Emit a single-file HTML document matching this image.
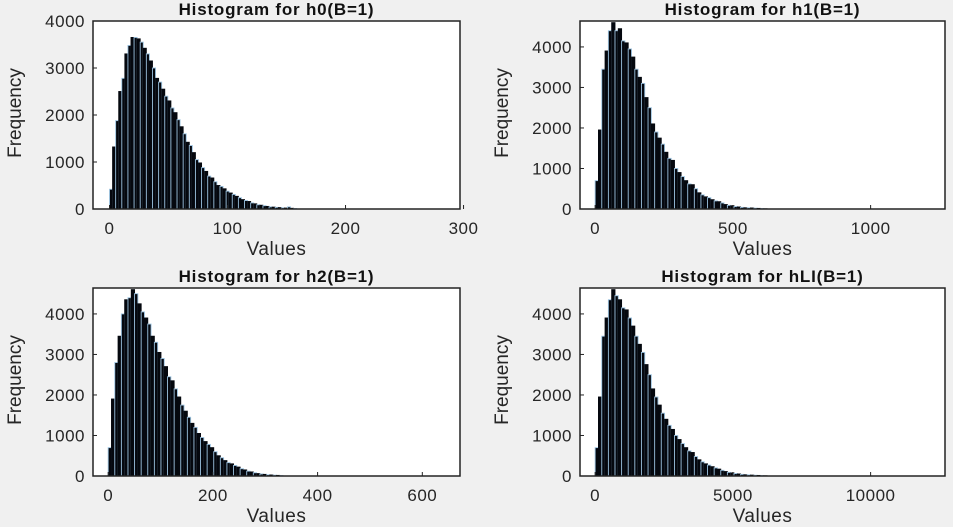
<!DOCTYPE html>
<html><head><meta charset="utf-8"><style>
html,body{margin:0;padding:0;background:#f0f0f0;}
svg{display:block;font-family:"Liberation Sans",sans-serif;}
</style></head><body>
<svg id="chart" width="953" height="527"></svg>
<script>
const h0Counts=[420,1320,1880,2500,2780,3300,3480,3650,3650,3620,3550,3420,3300,3150,3000,2780,2700,2550,2400,2300,2150,2050,1900,1750,1600,1420,1350,1200,1050,980,880,800,700,660,580,500,480,430,380,340,310,270,240,200,180,160,130,110,90,80,70,55,45,40,35,30,25,20,45,15,10];
const h1Counts=[700,1950,3450,3900,4400,4600,4400,4450,4150,4100,3950,3750,3450,3250,3100,2750,2500,2100,1900,1750,1600,1400,1250,1200,1000,900,800,700,620,600,500,400,350,300,280,230,200,180,150,110,90,80,60,50,40,30,30,25,20,15,10,5];
const h2Counts=[700,1900,2800,3450,4000,4350,4400,4600,4500,4250,4050,3900,3750,3450,3300,3050,2900,2700,2450,2350,2150,1950,1750,1600,1450,1300,1200,1050,950,850,780,700,600,500,450,380,330,300,260,220,180,150,120,100,80,60,50,40,30,25,20,15,10];
const hLICounts=[700,1950,3450,3900,4350,4600,4450,4350,4150,4100,3900,3700,3450,3250,3050,2750,2500,2150,1950,1750,1550,1400,1250,1150,1000,900,800,700,620,580,480,400,350,300,270,230,200,170,140,110,90,75,60,50,40,30,28,22,18,14,10,5];
const xTicks0=[0,100,200,300], xTicks1=[0,500,1000], xTicks2=[0,200,400,600], xTicks3=[0,5000,10000];
const yTicks=[0,1000,2000,3000,4000];
const titles=["Histogram for h0(B=1)","Histogram for h1(B=1)","Histogram for h2(B=1)","Histogram for hLI(B=1)"];

const NS="http://www.w3.org/2000/svg";
const svg=document.getElementById('chart');
function mk(tag,attrs,parent){const e=document.createElementNS(NS,tag);for(const k in attrs)e.setAttribute(k,attrs[k]);(parent||svg).appendChild(e);return e;}

const panels=[
 {counts:h0Counts,bin:2.6,xmin:-14,xmax:297,ymax:4000,ticks:xTicks0,L:93,R:460,T:21,B:209,title:titles[0],id:'h0'},
 {counts:h1Counts,bin:12,xmin:-55,xmax:1270,ymax:4640,ticks:xTicks1,L:580,R:945,T:21,B:209,title:titles[1],id:'h1'},
 {counts:h2Counts,bin:6.3,xmin:-29,xmax:672,ymax:4640,ticks:xTicks2,L:93,R:460,T:288,B:476,title:titles[2],id:'h2'},
 {counts:hLICounts,bin:120,xmin:-550,xmax:12700,ymax:4640,ticks:xTicks3,L:580,R:945,T:288,B:476,title:titles[3],id:'hli'}
];
panels.forEach(p=>{
  const g=mk('g',{});
  
  
  const xs=v=>p.L+(v-p.xmin)/(p.xmax-p.xmin)*(p.R-p.L);
  const ys=v=>p.B-v/p.ymax*(p.B-p.T);
  const bg=mk('rect',{x:p.L,y:p.T,width:p.R-p.L,height:p.B-p.T,fill:'#fff'},g);
  
  
  p.counts.forEach((c,i)=>{
    const x0=xs(i*p.bin),x1=xs((i+1)*p.bin);
    const r=mk('rect',{x:x0,y:ys(c),width:Math.max(x1-x0,0.5),height:p.B-ys(c),fill:'#05080f',stroke:(i%2==0)?'#9cc3e0':'#05080f','stroke-width':0.9},g);
    
    
  });
  const fr=mk('rect',{x:p.L,y:p.T,width:p.R-p.L,height:p.B-p.T,fill:'none',stroke:'#222','stroke-width':1.5},g);
  
  
  yTicks.forEach(t=>{
    const y=ys(t);
    mk('line',{x1:p.L,x2:p.L+4,y1:y,y2:y,stroke:'#222'},g);
    const tx=mk('text',{x:p.L-8,y:y+6,'text-anchor':'end','font-size':17,fill:'#262626','letter-spacing':0.5},g);
    tx.textContent=t;
    
    
  });
  p.ticks.forEach(t=>{
    const x=xs(t);
    mk('line',{x1:x,x2:x,y1:p.B,y2:p.B-4,stroke:'#222'},g);
    const tx=mk('text',{x:x,y:p.B+25,'text-anchor':'middle','font-size':17,fill:'#262626','letter-spacing':0.5},g);
    tx.textContent=t;
    
    
  });
  const xl=mk('text',{x:(p.L+p.R)/2,y:p.B+46,'text-anchor':'middle','font-size':19,fill:'#262626','letter-spacing':0.5},g);
  xl.textContent='Values';
  
  
  const yx=p.L-72,yy=(p.T+p.B)/2-2;
  const yl=mk('text',{x:yx,y:yy,'text-anchor':'middle','font-size':19,fill:'#262626',transform:'rotate(-90 '+yx+' '+yy+')'},g);
  yl.textContent='Frequency';
  
  
  const tt=mk('text',{x:(p.L+p.R)/2,y:p.T-6,'text-anchor':'middle','font-size':17,'font-weight':'bold',fill:'#111','letter-spacing':0.8},g);
  tt.textContent=p.title;
  
  
});
</script>
</body></html>
